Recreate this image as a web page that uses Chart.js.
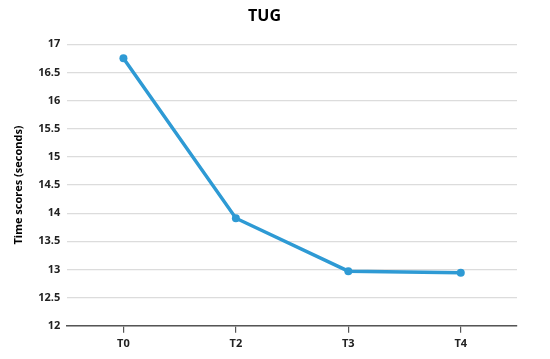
<!DOCTYPE html>
<html>
<head>
<meta charset="utf-8">
<script src="https://cdn.jsdelivr.net/npm/chart.js@4/dist/chart.umd.min.js"></script>
<style>
  html, body { margin: 0; padding: 0; background: #ffffff; }
  #wrap { width: 550px; height: 359px; position: relative; }
</style>
</head>
<body>
<div id="wrap"><canvas id="chart"></canvas></div>
<script>
const categories = ['T0', 'T2', 'T3', 'T4'];
const tugScores = [16.75, 13.91, 12.97, 12.94];
const yMin = 12;
const yMax = 17;
const yStep = 0.5;

const ctx = document.getElementById('chart').getContext('2d');

new Chart(ctx, {
    type: 'line',
    data: {
        labels: categories,
        datasets: [{
            label: 'TUG',
            data: tugScores,
            borderColor: '#2e9ad4',
            backgroundColor: '#2e9ad4',
            borderWidth: 3.5,
            pointRadius: 4,
            pointBorderWidth: 0,
            tension: 0,
            fill: false
        }]
    },
    options: {
        responsive: true,
        maintainAspectRatio: false,
        animation: false,
        layout: {
            padding: { top: 5, right: 33, bottom: 5, left: 12 }
        },
        plugins: {
            legend: { display: false },
            tooltip: { enabled: false },
            title: {
                display: true,
                text: 'TUG',
                color: '#000000',
                font: { size: 16, family: "'Open Sans', sans-serif", weight: 'bold' },
                padding: { top: 2, bottom: 18 }
            }
        },
        scales: {
            x: {
                offset: true,
                grid: {
                    offset: false,
                    drawOnChartArea: false,
                    drawTicks: true,
                    tickLength: 7,
                    color: '#555555',
                    lineWidth: 1.2
                },
                border: { display: true, color: '#555555', width: 1.5 },
                ticks: {
                    color: '#222222',
                    padding: 4,
                    font: { size: 11, family: "'Open Sans', sans-serif", weight: 'bold' }
                }
            },
            y: {
                min: yMin,
                max: yMax,
                grid: {
                    color: '#dcdcdc',
                    lineWidth: 1.2,
                    drawTicks: false
                },
                border: { display: false },
                ticks: {
                    stepSize: yStep,
                    color: '#222222',
                    padding: 7,
                    font: { size: 11, family: "'Open Sans', sans-serif", weight: 'bold' },
                    callback: function(value) {
                        return String(Math.round(value * 10) / 10);
                    }
                },
                title: {
                    display: true,
                    text: 'Time scores (seconds)',
                    color: '#000000',
                    font: { size: 11, family: "'Open Sans', sans-serif", weight: 'bold' },
                    padding: { top: 0, bottom: 6 }
                }
            }
        }
    }
});
</script>
</body>
</html>
